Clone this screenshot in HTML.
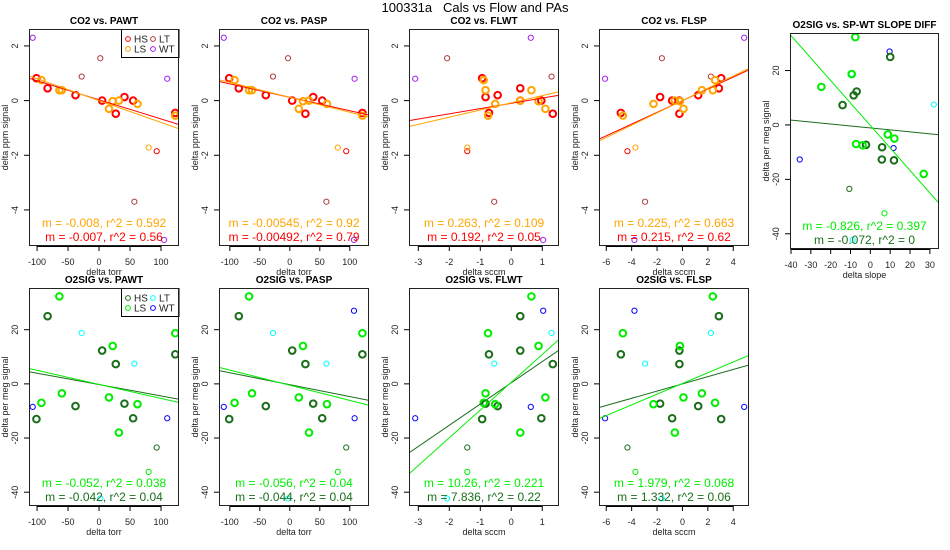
<!DOCTYPE html>
<html><head><meta charset="utf-8">
<style>
html,body{margin:0;padding:0;background:#fff;}
svg{display:block;font-family:"Liberation Sans",Arial,sans-serif;}
</style></head>
<body>
<svg id="chart" width="950" height="550" viewBox="0 0 950 550" xmlns="http://www.w3.org/2000/svg">
<text x="475" y="12" font-size="13" text-anchor="middle" style="white-space:pre" xml:space="preserve">100331a   Cals vs Flow and PAs</text>
</svg>
<script>
// ---- data: sample signals ----
const hsCO2 = [0.82,0.45,0.2,0,-0.48,0.13,0,-0.45];
const hsO2  = [-13,25,-8.2,12.3,7.3,-7.3,-12.7,10.9];
const lsCO2 = [0.75,0.38,0.38,-0.3,-0.02,0,-0.12,-0.55];
const lsO2  = [-7,32.3,-3.5,-5,14,-18,-7.5,18.7];
const thinCO2 = [0.88,1.55,-1.85,-3.7,-1.72,2.3,0.8,-5.1];
const thinO2  = [18.8,-42.3,-23.5,7.5,-32.5,-8.5,-12.7,27];
const thinGroup = ['LT','LT','HS','LT','LS','WT','WT','WT'];
// ---- x values per panel ----
const xPAWT_hs = [-101,-83,-38,5,27,41,55,123];
const xPAWT_ls = [-93,-64,-60,16,22,32,62,123];
const xPAWT_thin = [-28,2,93,57,80,-107,110,105];
const xPASP_hs = [-101,-85,-40,4,26,39,54,121];
const xPASP_ls = [-92,-68,-63,15,22,32,62,121];
const xPASP_thin = [-28,-3,94,61,80,-110,108,107];
const xFLWT_hs = [-0.94,0.29,-0.44,0.29,1.34,-0.83,0.97,-0.72];
const xFLWT_ls = [-0.89,0.65,-0.83,1.1,0.88,0.29,-0.52,-0.75];
const xFLWT_thin = [1.3,-2.07,-1.42,-0.55,-1.42,0.63,-3.1,1.03];
const xFLSP_hs = [3.05,2.87,1.24,-0.24,-0.24,-1.76,-0.81,-4.85];
const xFLSP_ls = [2.57,2.39,1.53,0.08,-0.2,-0.6,-2.28,-4.69];
const xFLSP_thin = [2.24,-1.62,-4.33,-2.94,-3.7,4.86,-6.09,-3.78];
const xSLOPE_hs = [11.9,10,5.9,-6.9,-14,-2.2,5.8,-8.4];
const xSLOPE_ls = [-7.2,-7.6,8.8,12.1,-24.7,26.9,-3.9,-9.4];
const xSLOPE_thin = [-9.4,-8.9,-10.6,32,7.1,11.7,-35.6,9.7];
// ---- fits [slope, intercept] ----
const fitCO2_ls = [[-0.008,0],[-0.00545,0.12],[0.263,-0.08],[0.225,0]];
const fitCO2_hs = [[-0.007,0.03],[-0.00492,0.12],[0.192,-0.1],[0.215,0]];
const fitO2_ls = [[-0.052,-0.2],[-0.056,-0.5],[10.26,0.6],[1.979,0.15],[-0.826,-0.2]];
const fitO2_hs = [[-0.042,-0.25],[-0.044,-0.3],[7.836,0.4],[1.332,0],[-0.072,-1.1]];
const statCO2_ls = ["m = -0.008, r^2 = 0.592","m = -0.00545, r^2 = 0.92","m = 0.263, r^2 = 0.109","m = 0.225, r^2 = 0.663"];
const statCO2_hs = ["m = -0.007, r^2 = 0.56","m = -0.00492, r^2 = 0.79","m = 0.192, r^2 = 0.05","m = 0.215, r^2 = 0.62"];
const statO2_ls = ["m = -0.052, r^2 = 0.038","m = -0.056, r^2 = 0.04","m = 10.26, r^2 = 0.221","m = 1.979, r^2 = 0.068","m = -0.826, r^2 = 0.397"];
const statO2_hs = ["m = -0.042, r^2 = 0.04","m = -0.044, r^2 = 0.04","m = 7.836, r^2 = 0.22","m = 1.332, r^2 = 0.06","m = -0.072, r^2 = 0"];
const ticksTorr = [-100,-50,0,50,100];
const ticksFLWT = [-3,-2,-1,0,1];
const ticksFLSP = [-6,-4,-2,0,2,4];
const ticksSlope = [-40,-30,-20,-10,0,10,20,30];
const ticksCO2 = [-4,-2,0,2];
const ticksO2 = [-40,-20,0,20];

const NS = "http://www.w3.org/2000/svg";
const svg = document.getElementById('chart');
function mk(tag, attrs, parent){ const e=document.createElementNS(NS,tag); for(const k in attrs) e.setAttribute(k,attrs[k]); (parent||svg).appendChild(e); return e; }

const colCO2 = {HS:'#ff0000',LS:'#ffa500',LT:'#b03a3a',WT:'#a020f0'};
const colO2 = {HS:'#1a6e1a',LS:'#00ee00',LT:'#00ffff',WT:'#0000ff'};
let clipN=0;

function panel(o){
  const g = mk('g',{});
  
  
  const L=o.box[0], R=o.box[1], T=o.box[2], B=o.box[3];
  const sx = v => L + (v - o.xd[0])/(o.xd[1]-o.xd[0])*(R-L);
  const sy = v => B - (v - o.yd[0])/(o.yd[1]-o.yd[0])*(B-T);
  const t = mk('text',{x:(L+R)/2,y:T-5,'font-size':10,'font-weight':'bold','text-anchor':'middle'},g);
  t.textContent=o.title;
  
  
  const xa = mk('g',{},g);
  
  
  mk('line',{x1:sx(o.xt[0]),x2:sx(o.xt[o.xt.length-1]),y1:B+0.5,y2:B+0.5,stroke:'#000','stroke-width':1},xa);
  o.xt.forEach(v=>{
    mk('line',{x1:sx(v),x2:sx(v),y1:B,y2:B+5,stroke:'#000'},xa);
    const tt=mk('text',{x:sx(v),y:B+19,'font-size':9,'text-anchor':'middle',fill:'#222'},xa);
    tt.textContent=String(v);
    
    
  });
  const xt=mk('text',{x:(L+R)/2,y:B+29,'font-size':9,'text-anchor':'middle',fill:'#222'},g);
  xt.textContent=o.xlab;
  
  
  const ya = mk('g',{},g);
  
  
  o.yt.forEach(v=>{
    mk('line',{x1:L-5,x2:L,y1:sy(v),y2:sy(v),stroke:'#000'},ya);
    const tt=mk('text',{x:L-11,y:sy(v),'font-size':9,'text-anchor':'middle',fill:'#222',transform:`rotate(-90 ${L-11} ${sy(v)})`},ya);
    tt.textContent=String(v);
    
    
  });
  const yl=mk('text',{x:L-21,y:(T+B)/2,'font-size':9,'text-anchor':'middle',fill:'#222',transform:`rotate(-90 ${L-21} ${(T+B)/2})`},g);
  yl.textContent=o.ylab;
  
  
  const id='c'+(clipN++);
  const cp=mk('clipPath',{id:id},g); mk('rect',{x:L,y:T,width:R-L,height:B-T},cp);
  const pg=mk('g',{'clip-path':`url(#${id})`},g);
  o.thinX.forEach((x,i)=>{
    const c=mk('circle',{cx:sx(x),cy:sy(o.thinY[i]),r:2.6,fill:'none',stroke:o.col[thinGroup[i]],'stroke-width':1},pg);
    
    
  });
  [['HS',o.hsX,o.hsY],['LS',o.lsX,o.lsY]].forEach(([k,xs,ys])=>{
    xs.forEach((x,i)=>{
      const c=mk('circle',{cx:sx(x),cy:sy(ys[i]),r:3.3,fill:'none',stroke:o.col[k],'stroke-width':2},pg);
      
      
    });
  });
  [['HS',o.fitHS],['LS',o.fitLS]].forEach(([k,f])=>{
    const l=mk('line',{x1:sx(o.xd[0]),y1:sy(f[0]*o.xd[0]+f[1]),x2:sx(o.xd[1]),y2:sy(f[0]*o.xd[1]+f[1]),stroke:o.col[k],'stroke-width':1},pg);
    
    
  });
  const s1=mk('text',{x:(L+R)/2,y:B-19,'font-size':12,'text-anchor':'middle',fill:o.col.LS},g);
  s1.textContent=o.statLS;
  
  
  const s2=mk('text',{x:(L+R)/2,y:B-5,'font-size':12,'text-anchor':'middle',fill:o.col.HS},g);
  s2.textContent=o.statHS;
  
  
  if(o.legend){
    const lg=mk('g',{},g);
    
    
    mk('rect',{x:121.5,y:T+0.5,width:R-121.5,height:28,fill:'#fff',stroke:'#000','stroke-width':1},lg);
    [['HS',128,T+10],['LS',128,T+20],['LT',153,T+10],['WT',153,T+20]].forEach(([k,cx,cy])=>{
      mk('circle',{cx:cx,cy:cy,r:2.4,fill:'none',stroke:o.col[k],'stroke-width':1},lg);
      const tt=mk('text',{x:cx+6,y:cy+3.5,'font-size':10,fill:'#222'},lg);
      tt.textContent=k;
      
      
    });
  }
  mk('rect',{x:L+0.5,y:T+0.5,width:R-L-1,height:B-T-1,fill:'none',stroke:'#222','stroke-width':1},g);
}

const tops=[29,246], bots=[288,506];
const coCO2=[-5.32,2.62], coO2=[-45.1,35.4];
const cfg=[
 {n:'PAWT',box:[29,179],xd:[-113,129],xt:ticksTorr,xl:'delta torr',hs:xPAWT_hs,ls:xPAWT_ls,th:xPAWT_thin},
 {n:'PASP',box:[219,369],xd:[-118,132],xt:ticksTorr,xl:'delta torr',hs:xPASP_hs,ls:xPASP_ls,th:xPASP_thin},
 {n:'FLWT',box:[409,559],xd:[-3.3,1.54],xt:ticksFLWT,xl:'delta sccm',hs:xFLWT_hs,ls:xFLWT_ls,th:xFLWT_thin},
 {n:'FLSP',box:[599,749],xd:[-6.57,5.24],xt:ticksFLSP,xl:'delta sccm',hs:xFLSP_hs,ls:xFLSP_ls,th:xFLSP_thin}
];
cfg.forEach((c,i)=>{
  panel({name:'panel-co2-'+c.n.toLowerCase(),title:'CO2 vs. '+c.n,box:[c.box[0],c.box[1],tops[0],tops[1]],xd:c.xd,yd:coCO2,xt:c.xt,yt:ticksCO2,
    xlab:c.xl,ylab:'delta ppm signal',col:colCO2,hsX:c.hs,hsY:hsCO2,lsX:c.ls,lsY:lsCO2,thinX:c.th,thinY:thinCO2,
    fitHS:fitCO2_hs[i],fitLS:fitCO2_ls[i],statLS:statCO2_ls[i],statHS:statCO2_hs[i],legend:i===0});
  panel({name:'panel-o2-'+c.n.toLowerCase(),title:'O2SIG vs. '+c.n,box:[c.box[0],c.box[1],bots[0],bots[1]],xd:c.xd,yd:coO2,xt:c.xt,yt:ticksO2,
    xlab:c.xl,ylab:'delta per meg signal',col:colO2,hsX:c.hs,hsY:hsO2,lsX:c.ls,lsY:lsO2,thinX:c.th,thinY:thinO2,
    fitHS:fitO2_hs[i],fitLS:fitO2_ls[i],statLS:statO2_ls[i],statHS:statO2_hs[i],legend:i===0});
});
panel({name:'panel-o2-slope-diff',title:'O2SIG vs. SP-WT SLOPE DIFF',box:[790,939,33,249],xd:[-40.5,34.6],yd:[-45.6,33.8],xt:ticksSlope,yt:ticksO2,
  xlab:'delta slope',ylab:'delta per meg signal',col:colO2,hsX:xSLOPE_hs,hsY:hsO2,lsX:xSLOPE_ls,lsY:lsO2,thinX:xSLOPE_thin,thinY:thinO2,
  fitHS:fitO2_hs[4],fitLS:fitO2_ls[4],statLS:statO2_ls[4],statHS:statO2_hs[4],legend:false});
</script>
</body></html>
